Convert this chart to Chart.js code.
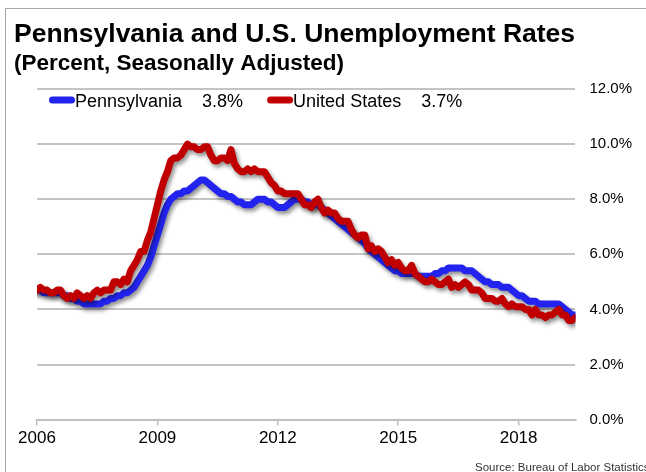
<!DOCTYPE html>
<html>
<head>
<meta charset="utf-8">
<script src="https://cdn.jsdelivr.net/npm/chart.js@4.4.1/dist/chart.umd.min.js"></script>
<style>
  body { margin: 0; background: #fff; }
</style>
</head>
<body>
<canvas id="canvas" width="646" height="472"></canvas>
<script>
// monthly, Jan 2006 - Jun 2019
var startYear = 2006;
var yearTicks = [2006, 2009, 2012, 2015, 2018];
var yTicks = [0, 2, 4, 6, 8, 10, 12];

var paRate = [
    4.7, 4.7, 4.6, 4.6, 4.6, 4.6, 4.6, 4.6, 4.5, 4.5, 4.4, 4.4,
    4.3, 4.3, 4.2, 4.2, 4.2, 4.2, 4.2, 4.2, 4.3, 4.3, 4.4, 4.4,
    4.5, 4.5, 4.6, 4.6, 4.7, 4.8, 5.0, 5.2, 5.4, 5.6, 5.9, 6.3,
    6.7, 7.1, 7.5, 7.8, 8.0, 8.1, 8.2, 8.2, 8.3, 8.3, 8.4, 8.5,
    8.6, 8.7, 8.7, 8.6, 8.5, 8.4, 8.3, 8.2, 8.2, 8.1, 8.1, 8.0,
    7.9, 7.9, 7.8, 7.8, 7.8, 7.9, 8.0, 8.0, 8.0, 7.9, 7.9, 7.8,
    7.7, 7.7, 7.7, 7.8, 7.9, 8.0, 8.0, 8.0, 7.9, 7.9, 7.8, 7.8,
    7.8, 7.7, 7.6, 7.5, 7.4, 7.3, 7.2, 7.1, 7.0, 6.9, 6.8, 6.7,
    6.6, 6.5, 6.4, 6.2, 6.1, 6.0, 5.9, 5.8, 5.7, 5.6, 5.5, 5.4,
    5.4, 5.3, 5.3, 5.3, 5.3, 5.3, 5.2, 5.2, 5.2, 5.2, 5.2, 5.3,
    5.3, 5.4, 5.4, 5.5, 5.5, 5.5, 5.5, 5.5, 5.4, 5.4, 5.4, 5.3,
    5.2, 5.1, 5.0, 5.0, 4.9, 4.9, 4.9, 4.8, 4.8, 4.8, 4.7, 4.6,
    4.5, 4.5, 4.4, 4.3, 4.3, 4.3, 4.2, 4.2, 4.2, 4.2, 4.2, 4.2,
    4.2, 4.1, 4.0, 3.9, 3.8, 3.8
];

var usRate = [
    4.7, 4.8, 4.7, 4.7, 4.6, 4.6, 4.7, 4.7, 4.5, 4.4, 4.5, 4.4,
    4.6, 4.5, 4.4, 4.5, 4.4, 4.6, 4.7, 4.6, 4.7, 4.7, 4.7, 5.0,
    5.0, 4.9, 5.1, 5.0, 5.4, 5.6, 5.8, 6.1, 6.1, 6.5, 6.8, 7.3,
    7.8, 8.3, 8.7, 9.0, 9.4, 9.5, 9.5, 9.6, 9.8, 10.0, 9.9, 9.9,
    9.8, 9.8, 9.9, 9.9, 9.6, 9.4, 9.4, 9.5, 9.5, 9.4, 9.8, 9.3,
    9.1, 9.0, 9.0, 9.1, 9.0, 9.1, 9.0, 9.0, 9.0, 8.8, 8.6, 8.5,
    8.3, 8.3, 8.2, 8.2, 8.2, 8.2, 8.2, 8.0, 7.8, 7.8, 7.7, 7.9,
    8.0, 7.7, 7.5, 7.6, 7.5, 7.5, 7.3, 7.2, 7.2, 7.2, 6.9, 6.7,
    6.6, 6.7, 6.7, 6.2, 6.3, 6.1, 6.2, 6.1, 5.9, 5.7, 5.8, 5.6,
    5.7, 5.5, 5.4, 5.4, 5.6, 5.3, 5.2, 5.1, 5.0, 5.0, 5.1, 5.0,
    4.9, 4.9, 5.0, 5.1, 4.8, 4.9, 4.8, 4.9, 5.0, 4.9, 4.7, 4.7,
    4.7, 4.6, 4.4, 4.4, 4.4, 4.3, 4.3, 4.4, 4.2, 4.1, 4.2, 4.1,
    4.1, 4.1, 4.0, 4.0, 3.8, 4.0, 3.8, 3.8, 3.7, 3.8, 3.8, 3.9,
    4.0, 3.8, 3.8, 3.6, 3.6, 3.7
];

var FONT = '"Liberation Sans", Arial, sans-serif';

function toPoints(arr) {
    return arr.map(function (v, i) {
        return { x: startYear + i / 12, y: v };
    });
}

// frame lines around the slide
var framePlugin = {
    id: 'frame',
    beforeDraw: function (chart) {
        var ctx = chart.ctx;
        ctx.save();
        ctx.strokeStyle = '#a6a6a6';
        ctx.lineWidth = 1;
        ctx.beginPath();
        ctx.moveTo(5.5, 472);
        ctx.lineTo(5.5, 8.5);
        ctx.lineTo(646, 8.5);
        ctx.stroke();
        ctx.restore();
    }
};

// soft drop shadow under the lines
var shadowPlugin = {
    id: 'lineShadow',
    beforeDatasetDraw: function (chart) {
        var ctx = chart.ctx;
        ctx.save();
        ctx.shadowColor = 'rgba(0,0,0,0.45)';
        ctx.shadowBlur = 4;
        ctx.shadowOffsetX = 2;
        ctx.shadowOffsetY = 3;
    },
    afterDatasetDraw: function (chart) {
        chart.ctx.restore();
    }
};

// titles, legend inside the plot, source note
var textPlugin = {
    id: 'texts',
    afterDraw: function (chart) {
        var ctx = chart.ctx;
        ctx.save();
        ctx.fillStyle = '#000';
        ctx.textBaseline = 'alphabetic';
        ctx.textAlign = 'left';
        ctx.font = 'bold 26.5px ' + FONT;
        ctx.fillText('Pennsylvania and U.S. Unemployment Rates', 14, 42);
        ctx.font = 'bold 22.5px ' + FONT;
        ctx.fillText('(Percent, Seasonally Adjusted)', 14, 70);

        // legend
        ctx.font = '18px ' + FONT;
        var x = 49;
        chart.data.datasets.forEach(function (ds) {
            ctx.strokeStyle = ds.borderColor;
            ctx.lineWidth = 7;
            ctx.lineCap = 'round';
            ctx.beginPath();
            ctx.moveTo(x + 3.5, 100);
            ctx.lineTo(x + 22.5, 100);
            ctx.stroke();
            x += 26;
            var last = ds.data[ds.data.length - 1].y;
            var txt = ds.label + '    ' + last.toFixed(1) + '%';
            ctx.fillStyle = '#000';
            ctx.fillText(txt, x, 107);
            x += ctx.measureText(txt).width + 24;
        });

        ctx.font = '11.5px ' + FONT;
        ctx.fillStyle = '#333';
        ctx.fillText('Source: Bureau of Labor Statistics', 475, 471);
        ctx.restore();
    }
};

window.onload = function () {
    var ctx = document.getElementById('canvas').getContext('2d');
    window.myLine = new Chart(ctx, {
        type: 'line',
        data: {
            datasets: [
                {
                    label: 'Pennsylvania',
                    data: toPoints(paRate),
                    borderColor: '#2323f0',
                    borderWidth: 7,
                    order: 1
                },
                {
                    label: 'United States',
                    data: toPoints(usRate),
                    borderColor: '#c00000',
                    borderWidth: 7,
                    order: 0
                }
            ]
        },
        options: {
            responsive: false,
            animation: false,
            layout: { padding: { left: 37, top: 89, right: 0, bottom: 20 } },
            elements: {
                point: { radius: 0 },
                line: { tension: 0, borderJoinStyle: 'round', borderCapStyle: 'round', fill: false }
            },
            plugins: {
                legend: { display: false },
                title: { display: false },
                tooltip: { enabled: false }
            },
            scales: {
                x: {
                    type: 'linear',
                    min: startYear,
                    max: startYear + (paRate.length - 1) / 12,
                    afterBuildTicks: function (scale) {
                        scale.ticks = yearTicks.map(function (v) { return { value: v }; });
                    },
                    grid: {
                        drawOnChartArea: false,
                        drawTicks: true,
                        tickLength: 6,
                        color: '#bfbfbf',
                        lineWidth: 1.5
                    },
                    border: { display: true, color: '#bfbfbf', width: 2 },
                    ticks: {
                        padding: 3,
                        maxRotation: 0,
                        color: '#000',
                        font: { family: FONT, size: 17 },
                        callback: function (v) { return String(v); }
                    }
                },
                y: {
                    position: 'right',
                    min: 0,
                    max: 12,
                    afterBuildTicks: function (scale) {
                        scale.ticks = yTicks.map(function (v) { return { value: v }; });
                    },
                    grid: { drawTicks: false, color: '#c4c4c4', lineWidth: 2 },
                    border: { display: false },
                    ticks: {
                        padding: 14,
                        color: '#000',
                        font: { family: FONT, size: 15 },
                        callback: function (v) { return v.toFixed(1) + '%'; }
                    }
                }
            }
        },
        plugins: [framePlugin, shadowPlugin, textPlugin]
    });
};
</script>
</body>
</html>
